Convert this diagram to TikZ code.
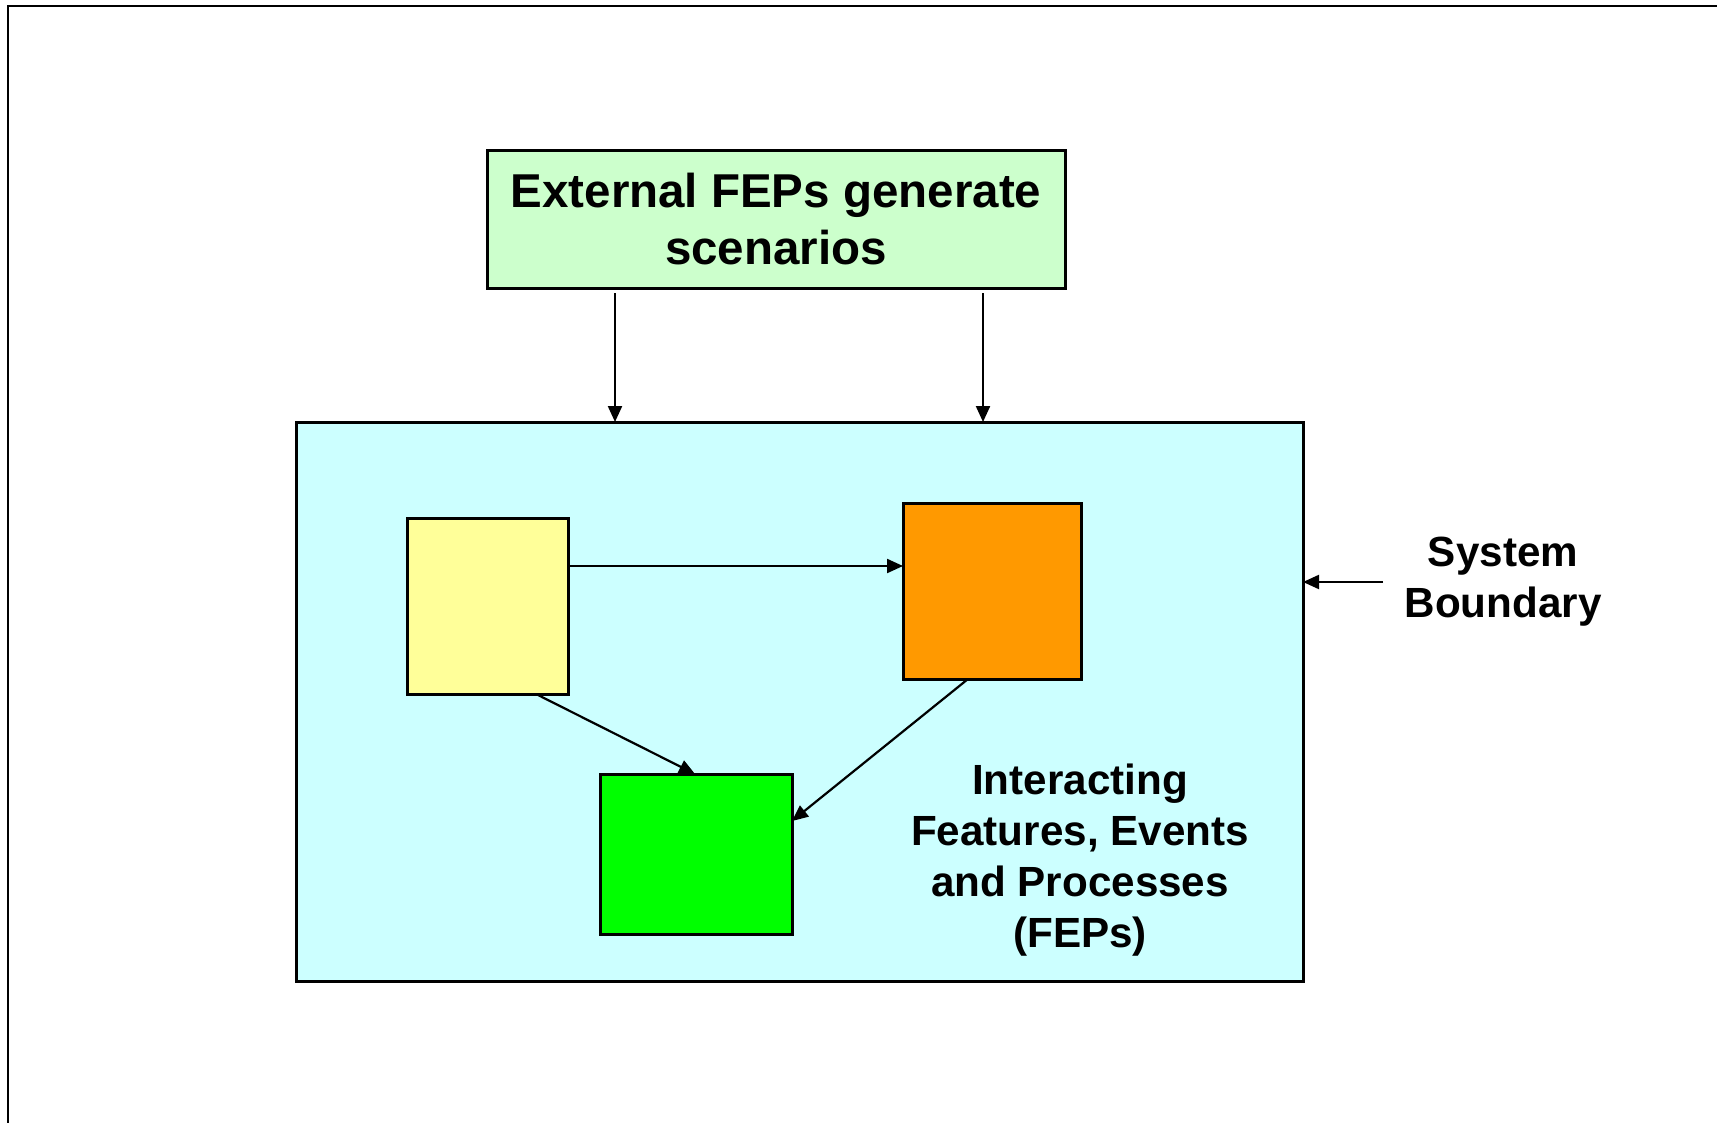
\documentclass[tikz,border=0pt]{standalone}
\usepackage{fontspec}
\setmainfont{Liberation Sans}
\usetikzlibrary{arrows.meta}
\definecolor{topgreen}{HTML}{CCFFCC}
\definecolor{syscyan}{HTML}{CCFFFF}
\definecolor{boxyellow}{HTML}{FFFF99}
\definecolor{boxorange}{HTML}{FF9900}
\definecolor{boxgreen}{HTML}{00FF00}
\begin{document}
\begin{tikzpicture}[x=0.5pt,y=-0.5pt,
  boxnode/.style={draw=black,line width=1.5pt,rectangle,inner sep=0pt,outer sep=0pt},
  arr/.style={line width=1.1pt,-{Triangle[length=8pt,width=7pt]}},
  bigtext/.style={font=\fontsize{23.75}{28.5}\selectfont\bfseries,align=center},
  midtext/.style={font=\fontsize{21.1}{25.5}\selectfont\bfseries,align=center}]
\useasboundingbox (0,0) rectangle (1717,1123);
\fill[white] (0,0) rectangle (1717,1123);
% outer frame
\draw[line width=1.4pt] (8,1123) -- (8,6) -- (1717,6);
% system boundary
\node[boxnode,fill=syscyan,minimum width=503.5pt,minimum height=279.5pt] (cyan) at (799.5,701.5) {};
% top box
\node[boxnode,fill=topgreen,minimum width=289pt,minimum height=68.5pt,bigtext] (top) at (776,219.5) {External FEPs generate\\scenarios};
% inner boxes
\node[boxnode,fill=boxyellow,minimum width=80.5pt,minimum height=88pt] (yel) at (487.5,606) {};
\node[boxnode,fill=boxorange,minimum width=89pt,minimum height=88pt] (org) at (992,591) {};
\node[boxnode,fill=boxgreen,minimum width=96pt,minimum height=80pt] (grn) at (696,854) {};
% texts
\node[midtext] (fep) at (1080,860) {Interacting\\Features, Events\\and Processes\\(FEPs)};
\node[midtext] (sys) at (1503,582) {System\\Boundary};
% connector helper coordinates
\coordinate (s1) at (615,293);
\coordinate (s2) at (983,293);
\coordinate (h1) at (0,566);
\coordinate (c1) at (536,0);
\coordinate (c2) at (695,0);
\coordinate (c3) at (968,0);
\coordinate (h2) at (0,821);
\coordinate (sb) at (1383,582);
% connectors
\draw[arr] (s1) -- (s1 |- cyan.north);
\draw[arr] (s2) -- (s2 |- cyan.north);
\draw[arr] (yel.east |- h1) -- (org.west |- h1);
\draw[arr] (yel.south -| c1) -- (grn.north -| c2);
\draw[arr] (org.south -| c3) -- (grn.east |- h2);
\draw[arr] (sb) -- (sb -| cyan.east);
\end{tikzpicture}
\end{document}
